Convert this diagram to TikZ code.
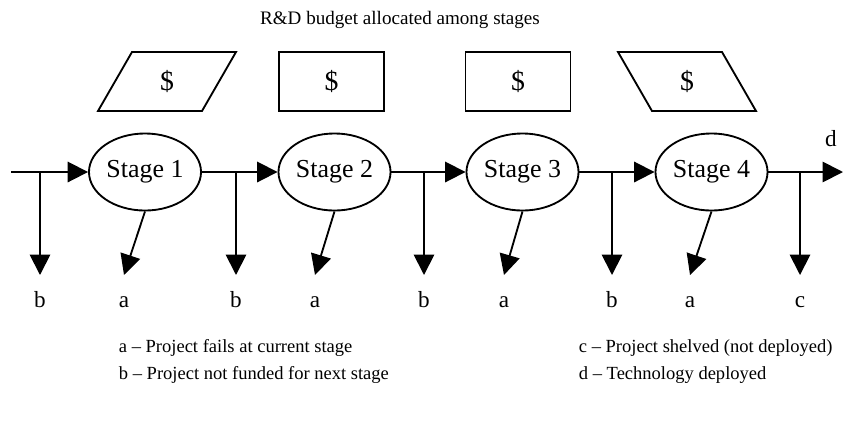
\documentclass[tikz,border=0pt]{standalone}
\usepackage{fontspec}
\setmainfont{Liberation Serif}
\usetikzlibrary{arrows.meta,positioning,calc,shapes.geometric}
\tikzset{
  stagebox/.style={draw, ellipse, inner sep=0pt, minimum width=60.5pt, minimum height=41.6pt, font=\fontsize{14}{16}\selectfont},
  fundbox/.style={draw, rectangle, inner sep=0pt, minimum width=56.7pt, minimum height=31.9pt, font=\fontsize{15}{17}\selectfont},
  fundtext/.style={inner sep=0pt, font=\fontsize{15}{17}\selectfont},
  lbl/.style={inner sep=0pt, text height=9pt, text depth=0pt, font=\fontsize{12.5}{14}\selectfont},
  legend/.style={anchor=west, inner sep=0pt, font=\fontsize{10}{12}\selectfont}
}

\begin{document}
\begin{tikzpicture}[>={Triangle[length=11pt,width=11pt]}, x=0.54pt, y=-0.54pt, line width=1pt]
    \useasboundingbox (0,0) rectangle (844,421);

    \node[inner sep=0pt, font=\fontsize{10.3}{12}\selectfont] (title) at (400,20) {R\&D budget allocated among stages};

    % budget shares
    \node[fundtext] (f1) at (167,81.5) {\$};
    \draw (132,52) -- (236,52) -- (202,111) -- (98,111) -- cycle;
    \node[fundbox] (f2) at (331.5,81.5) {\$};
    \node[fundbox] (f3) at (518,81.5) {\$};
    \node[fundtext] (f4) at (687,81.5) {\$};
    \draw (618,52) -- (722,52) -- (756,111) -- (652,111) -- cycle;

    % stages
    \node[stagebox] (s1) at (145,172) {Stage 1};
    \node[stagebox] (s2) at (334.5,172) {Stage 2};
    \node[stagebox] (s3) at (522.5,172) {Stage 3};
    \node[stagebox] (s4) at (711.5,172) {Stage 4};

    \coordinate (in) at (11,172);
    \coordinate (out) at (843,172);
    \coordinate (j0) at (40,172);
    \coordinate (j1) at (236,172);
    \coordinate (j2) at (424,172);
    \coordinate (j3) at (612,172);
    \coordinate (j4) at (800,172);

    \draw[->] (in) -- (s1);
    \draw[->] (s1) -- (s2);
    \draw[->] (s2) -- (s3);
    \draw[->] (s3) -- (s4);
    \draw[->] (s4) -- (out);
    \node[lbl] (d) at (831,138) {d};

    % not funded / shelved
    \foreach \j/\x/\t in {0/40/b, 1/236/b, 2/424/b, 3/612/b, 4/800/c} {
        \coordinate (e\j) at (\x,275);
        \draw[->] (j\j) -- (e\j);
        \node[lbl, below=8pt of e\j] (l\j) {\t};
    }

    % failures
    \foreach \s/\x in {1/124, 2/315, 3/504, 4/690} {
        \coordinate (ea\s) at (\x,275);
        \draw[->] (s\s.south) -- (ea\s);
        \node[lbl, below=8pt of ea\s] (la\s) {a};
    }

    % legend
    \node[legend] (ka) at (118,348) {a -- Project fails at current stage};
    \node[legend] (kb) at (118,375) {b -- Project not funded for next stage};
    \node[legend] (kc) at (578,348) {c -- Project shelved (not deployed)};
    \node[legend] (kd) at (578,375) {d -- Technology deployed};
\end{tikzpicture}
\end{document}
